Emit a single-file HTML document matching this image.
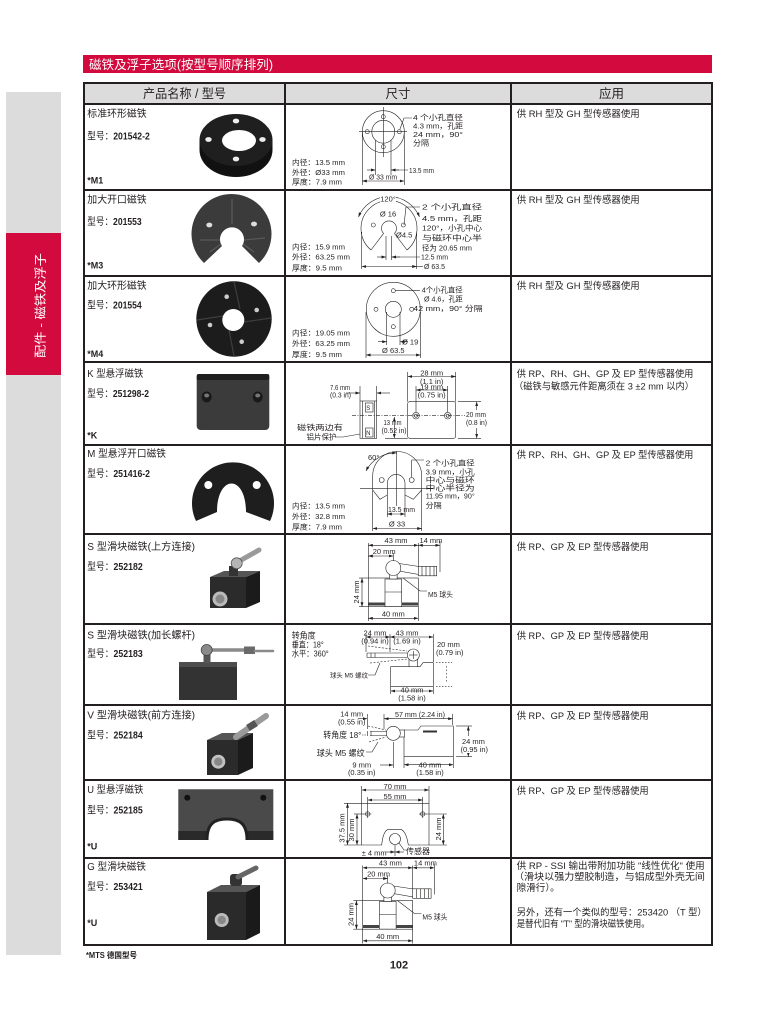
<!DOCTYPE html>
<html><head><meta charset="utf-8">
<style>
html,body{margin:0;padding:0;background:#fff;}
svg{display:block;}
text{font-family:"Liberation Sans","Noto Sans CJK SC",sans-serif;fill:#231f20;}
.t7{font-size:7.5px;}
.t6{font-size:6.5px;}
.t10{font-size:10px;}
.t9{font-size:9.5px;}
</style></head><body>
<svg width="780" height="1009" viewBox="0 0 780 1009" xmlns="http://www.w3.org/2000/svg">
<defs>
<marker id="ar" viewBox="0 0 6 4" refX="6" refY="2" markerWidth="4.5" markerHeight="3" orient="auto-start-reverse" markerUnits="userSpaceOnUse"><path d="M0,0 L6,2 L0,4 z" fill="#231f20"/></marker>
</defs>

<!-- sidebar -->
<rect x="6" y="92" width="55" height="863" fill="#dcdcdd"/>
<rect x="6" y="233" width="55" height="142" fill="#d20a3e"/>
<text transform="translate(44.5,305.5) rotate(-90)" text-anchor="middle" font-size="12" style="fill:#fff" textLength="105" lengthAdjust="spacingAndGlyphs">配件 - 磁铁及浮子</text>

<!-- title bar -->
<rect x="83" y="55" width="629" height="18" fill="#d20a3e"/>
<text x="89" y="69" font-size="12.5" style="fill:#fff" textLength="184" lengthAdjust="spacingAndGlyphs">磁铁及浮子选项(按型号顺序排列)</text>

<!-- table -->
<rect x="84" y="83" width="628" height="21" fill="#dcdcdc"/>
<g stroke="#231f20" stroke-width="2" fill="none">
<rect x="84" y="83" width="628" height="862"/>
<line x1="285" y1="83" x2="285" y2="945"/>
<line x1="511" y1="83" x2="511" y2="945"/>
<line x1="84" y1="104" x2="712" y2="104"/>
<line x1="84" y1="190" x2="712" y2="190"/>
<line x1="84" y1="276" x2="712" y2="276"/>
<line x1="84" y1="362" x2="712" y2="362"/>
<line x1="84" y1="445" x2="712" y2="445"/>
<line x1="84" y1="534" x2="712" y2="534"/>
<line x1="84" y1="624" x2="712" y2="624"/>
<line x1="84" y1="705" x2="712" y2="705"/>
<line x1="84" y1="780" x2="712" y2="780"/>
<line x1="84" y1="858" x2="712" y2="858"/>
</g>
<text x="184.5" y="98" font-size="12.5" text-anchor="middle" textLength="83" lengthAdjust="spacingAndGlyphs">产品名称 / 型号</text>
<text x="398" y="98" font-size="12.5" text-anchor="middle">尺寸</text>
<text x="611.5" y="98" font-size="12.5" text-anchor="middle">应用</text>

<!-- left column texts -->
<g class="t10">
<text x="87.3" y="117" textLength="59.4" lengthAdjust="spacingAndGlyphs">标准环形磁铁</text>
<text x="87.3" y="139.5" textLength="62.5" lengthAdjust="spacingAndGlyphs">型号：<tspan font-weight="bold">201542-2</tspan></text>
<text x="87.3" y="183.5" font-weight="bold" font-size="9">*M1</text>

<text x="87.3" y="203" textLength="59.4" lengthAdjust="spacingAndGlyphs">加大开口磁铁</text>
<text x="87.3" y="225" textLength="54.4" lengthAdjust="spacingAndGlyphs">型号：<tspan font-weight="bold">201553</tspan></text>
<text x="87.3" y="268.5" font-weight="bold" font-size="9">*M3</text>

<text x="87.3" y="289" textLength="59.4" lengthAdjust="spacingAndGlyphs">加大环形磁铁</text>
<text x="87.3" y="308.5" textLength="54.4" lengthAdjust="spacingAndGlyphs">型号：<tspan font-weight="bold">201554</tspan></text>
<text x="87.3" y="357" font-weight="bold" font-size="9">*M4</text>

<text x="87.3" y="377" textLength="56" lengthAdjust="spacingAndGlyphs">K 型悬浮磁铁</text>
<text x="87.3" y="397" textLength="61.7" lengthAdjust="spacingAndGlyphs">型号：<tspan font-weight="bold">251298-2</tspan></text>
<text x="87.3" y="438.5" font-weight="bold" font-size="9">*K</text>

<text x="87.3" y="457" textLength="78.7" lengthAdjust="spacingAndGlyphs">M 型悬浮开口磁铁</text>
<text x="87.3" y="477" textLength="62.7" lengthAdjust="spacingAndGlyphs">型号：<tspan font-weight="bold">251416-2</tspan></text>

<text x="87.3" y="550" textLength="107.7" lengthAdjust="spacingAndGlyphs">S 型滑块磁铁(上方连接)</text>
<text x="87.3" y="570" textLength="55.4" lengthAdjust="spacingAndGlyphs">型号：<tspan font-weight="bold">252182</tspan></text>

<text x="87.3" y="638.5" textLength="107.7" lengthAdjust="spacingAndGlyphs">S 型滑块磁铁(加长螺杆)</text>
<text x="87.3" y="657" textLength="55.4" lengthAdjust="spacingAndGlyphs">型号：<tspan font-weight="bold">252183</tspan></text>

<text x="87.3" y="718.5" textLength="107.7" lengthAdjust="spacingAndGlyphs">V 型滑块磁铁(前方连接)</text>
<text x="87.3" y="738.5" textLength="55.4" lengthAdjust="spacingAndGlyphs">型号：<tspan font-weight="bold">252184</tspan></text>

<text x="87.3" y="793" textLength="56" lengthAdjust="spacingAndGlyphs">U 型悬浮磁铁</text>
<text x="87.3" y="813.5" textLength="55.4" lengthAdjust="spacingAndGlyphs">型号：<tspan font-weight="bold">252185</tspan></text>
<text x="87.3" y="849.5" font-weight="bold" font-size="9">*U</text>

<text x="87.3" y="870" textLength="58.7" lengthAdjust="spacingAndGlyphs">G 型滑块磁铁</text>
<text x="87.3" y="890" textLength="55.4" lengthAdjust="spacingAndGlyphs">型号：<tspan font-weight="bold">253421</tspan></text>
<text x="87.3" y="926" font-weight="bold" font-size="9">*U</text>
</g>

<!-- product images -->
<!-- row1 ring -->
<g>
<ellipse cx="236" cy="150" rx="36.5" ry="27" fill="#111"/>
<rect x="199.5" y="140" width="73" height="10" fill="#111"/>
<ellipse cx="236" cy="140" rx="36.5" ry="26" fill="#1f1f1f"/>
<ellipse cx="239" cy="140.5" rx="17" ry="10.5" fill="#fff"/>
<ellipse cx="236" cy="121" rx="3.2" ry="2.4" fill="#eee"/>
<ellipse cx="208.5" cy="139.5" rx="3.2" ry="2.4" fill="#eee"/>
<ellipse cx="262.5" cy="139.5" rx="3.2" ry="2.4" fill="#eee"/>
<ellipse cx="236" cy="159" rx="3.2" ry="2.4" fill="#eee"/>
</g>
<!-- row2 fan -->
<g>
<path d="M204,263 A40,40 0 1 1 259,263 L242,246 A12,12 0 1 0 222,246 Z" fill="#3b3b3b"/>
<g stroke="#5a5a5a" stroke-width="1.2" fill="none">
<path d="M232,199 L232,224"/><path d="M200,240 L220,240"/><path d="M244,240 L265,238"/>
<path d="M210,252 L221,244"/><path d="M254,252 L243,244"/>
</g>
<ellipse cx="209.3" cy="225" rx="3" ry="2.4" fill="#ddd"/>
<ellipse cx="254" cy="224" rx="3" ry="2.4" fill="#ddd"/>
</g>
<!-- row3 disk -->
<g>
<circle cx="234" cy="319" r="37.7" fill="#1c1c1c"/>
<g stroke="#3e3e3e" stroke-width="1.2">
<line x1="234" y1="282" x2="240" y2="309"/><line x1="271" y1="318" x2="244" y2="322"/>
<line x1="234" y1="356" x2="229" y2="330"/><line x1="197" y1="320" x2="223" y2="316"/>
</g>
<circle cx="233.3" cy="320" r="11" fill="#fff"/>
<circle cx="226.7" cy="296.7" r="2.3" fill="#ccc"/>
<circle cx="256.7" cy="310" r="2.3" fill="#ccc"/>
<circle cx="210" cy="325" r="2.3" fill="#ccc"/>
<circle cx="241.7" cy="341.7" r="2.3" fill="#ccc"/>
</g>
<!-- row4 plate -->
<g>
<rect x="196.7" y="374" width="72.6" height="56" rx="4" fill="#3b3b3b"/>
<rect x="196.7" y="374" width="72.6" height="6" rx="2" fill="#1e1e1e"/>
<ellipse cx="206.7" cy="397" rx="5" ry="5.5" fill="#1a1a1a"/>
<ellipse cx="257.7" cy="397" rx="5" ry="5.5" fill="#1a1a1a"/>
<ellipse cx="206.7" cy="395.5" rx="2.5" ry="2" fill="#777"/>
<ellipse cx="257.7" cy="395.5" rx="2.5" ry="2" fill="#777"/>
</g>
<!-- row5 open ring -->
<g>
<path d="M196,521 A41,41 0 1 1 270,521 L246,512 C246,474 217,474 217,512 Z" fill="#1e1e1e"/>
<circle cx="208.3" cy="485" r="4" fill="#fff"/>
<circle cx="256.7" cy="485" r="4" fill="#fff"/>
</g>
<!-- row6 slider -->
<g>
<polygon points="210,577 224,571 260,571 246,577" fill="#555"/>
<rect x="210" y="577" width="36" height="31" fill="#2b2b2b"/>
<polygon points="246,577 260,571 260,602 246,608" fill="#1b1b1b"/>
<rect x="229" y="566" width="9" height="10" fill="#333"/>
<circle cx="220" cy="599" r="7.5" fill="#bbb"/><circle cx="220" cy="599" r="4.5" fill="#888"/>
<line x1="236" y1="563" x2="259" y2="550" stroke="#9a9a9a" stroke-width="5" stroke-linecap="round"/>
<circle cx="236.7" cy="563.3" r="5.5" fill="#b5b5b5" stroke="#555" stroke-width=".8"/>
</g>
<!-- row7 slider long rod -->
<g>
<rect x="179" y="664" width="58" height="36" fill="#333"/>
<rect x="179" y="662" width="58" height="5" fill="#4d4d4d"/>
<rect x="203.5" y="653" width="7" height="10" fill="#555"/>
<line x1="210" y1="650" x2="245" y2="650" stroke="#8a8a8a" stroke-width="3.5"/>
<rect x="244" y="646.5" width="11" height="7.5" fill="#6a6a6a"/>
<line x1="255" y1="651" x2="273" y2="651" stroke="#8a8a8a" stroke-width="2.5" stroke-linecap="round"/>
<circle cx="206.7" cy="650" r="5.5" fill="#8a8a8a" stroke="#444" stroke-width=".8"/>
</g>
<!-- row8 V slider -->
<g>
<polygon points="207,740 222,733 253,733 238,740" fill="#555"/>
<rect x="207" y="740" width="31" height="35" fill="#2b2b2b"/>
<polygon points="238,740 253,733 253,768 238,775" fill="#1b1b1b"/>
<circle cx="218.3" cy="761.7" r="7" fill="#c2c2c2"/><circle cx="218.3" cy="761.7" r="4.2" fill="#888"/>
<line x1="236" y1="737" x2="266" y2="716" stroke="#9a9a9a" stroke-width="6" stroke-linecap="round"/>
<line x1="248" y1="728" x2="256" y2="723" stroke="#555" stroke-width="7"/>
</g>
<!-- row9 U plate -->
<g>
<path d="M178.3,789.3 H273.3 V840 H247 C247,824 240,819 227,819 C214,819 207,824 207,840 H178.3 Z" fill="#4a4a4a"/>
<rect x="178.3" y="831" width="29" height="9" fill="#2a2a2a"/>
<rect x="247" y="831" width="26.3" height="9" fill="#2a2a2a"/>
<path d="M207,840 C207,824 214,819 227,819 C240,819 247,824 247,840" fill="none" stroke="#222" stroke-width="3"/>
<circle cx="187.3" cy="797.7" r="3" fill="#111"/>
<circle cx="263.3" cy="797.7" r="3" fill="#111"/>
</g>
<!-- row10 G slider -->
<g>
<polygon points="207,892 221,885 260,885 246,892" fill="#555"/>
<rect x="207" y="892" width="39" height="48" fill="#2a2a2a"/>
<polygon points="246,892 260,885 260,933 246,940" fill="#1a1a1a"/>
<circle cx="221.7" cy="920" r="7" fill="#bbb"/><circle cx="221.7" cy="920" r="4.2" fill="#888"/>
<rect x="230" y="874" width="12" height="12" rx="3" fill="#333"/>
<line x1="238" y1="877" x2="256" y2="868" stroke="#666" stroke-width="5" stroke-linecap="round"/>
</g>

<!-- dimension drawings -->
<g stroke="#231f20" stroke-width=".6" fill="none">
<!-- row1 -->
<circle cx="383.3" cy="131.7" r="21"/>
<circle cx="383.3" cy="131.7" r="11.5"/>
<circle cx="383.3" cy="116.7" r="2"/><circle cx="367.3" cy="131.7" r="2"/>
<circle cx="399.3" cy="131.7" r="2"/><circle cx="383.3" cy="146.7" r="2"/>
<line x1="359" y1="131.7" x2="407" y2="131.7"/>
<line x1="383.3" y1="107" x2="383.3" y2="157"/>
<line x1="362.3" y1="132" x2="362.3" y2="185"/>
<line x1="404.3" y1="132" x2="404.3" y2="185"/>
<line x1="362.3" y1="181" x2="404.3" y2="181" marker-start="url(#ar)" marker-end="url(#ar)"/>
<line x1="375.5" y1="140" x2="375.5" y2="175"/>
<line x1="391" y1="140" x2="391" y2="175"/>
<line x1="367" y1="170" x2="375.5" y2="170" marker-end="url(#ar)"/>
<line x1="399" y1="170" x2="391" y2="170" marker-end="url(#ar)"/>
<line x1="391" y1="170" x2="408" y2="170"/>
<polyline points="400,129 404,118 412,118"/>

<!-- row2 -->
<path d="M371,250 A28,28 0 1 1 407,250 L394.5,233.5 A7.5,7.5 0 1 0 383.5,233.5 Z"/>
<circle cx="373.3" cy="225" r="2"/><circle cx="403.3" cy="225" r="2"/>
<path d="M358.5,217 A33,33 0 0 1 419.5,217" marker-start="url(#ar)" marker-end="url(#ar)"/>
<line x1="386" y1="236" x2="386" y2="260"/>
<line x1="391.5" y1="236" x2="391.5" y2="260"/>
<line x1="377" y1="257" x2="386" y2="257" marker-end="url(#ar)"/>
<line x1="400" y1="257" x2="391.5" y2="257" marker-end="url(#ar)"/>
<line x1="391.5" y1="257" x2="420" y2="257"/>
<line x1="361.7" y1="232" x2="361.7" y2="269"/>
<line x1="416.7" y1="232" x2="416.7" y2="269"/>
<line x1="361.7" y1="266.5" x2="416.7" y2="266.5" marker-start="url(#ar)" marker-end="url(#ar)"/>
<line x1="416.7" y1="266.5" x2="423" y2="266.5"/>
<polyline points="404,225 406,207 420,207"/>

<!-- row3 -->
<circle cx="393.3" cy="309.3" r="27"/>
<circle cx="393.3" cy="309.3" r="8"/>
<circle cx="393.3" cy="290.7" r="2"/><circle cx="376" cy="309.3" r="2"/>
<circle cx="411.7" cy="309.3" r="2"/><circle cx="393.3" cy="326.7" r="2"/>
<line x1="386.7" y1="312" x2="386.7" y2="345"/>
<line x1="400" y1="312" x2="400" y2="345"/>
<line x1="378" y1="341.7" x2="386.7" y2="341.7" marker-end="url(#ar)"/>
<line x1="408" y1="341.7" x2="400" y2="341.7" marker-end="url(#ar)"/>
<line x1="366" y1="312" x2="366" y2="358"/>
<line x1="420.6" y1="312" x2="420.6" y2="358"/>
<line x1="366" y1="355" x2="420.6" y2="355" marker-start="url(#ar)" marker-end="url(#ar)"/>
<line x1="395.5" y1="290.7" x2="420" y2="290.7"/>

<!-- row4 -->
<rect x="360" y="401" width="16.7" height="37.3"/>
<line x1="362.3" y1="401" x2="362.3" y2="438.3"/>
<line x1="374.4" y1="401" x2="374.4" y2="438.3"/>
<rect x="365.5" y="403" width="7.5" height="9"/>
<rect x="365.5" y="428" width="7.5" height="9"/>
<line x1="352" y1="415.7" x2="468" y2="415.7" stroke-dasharray="4 1.5 1 1.5"/>
<line x1="360" y1="386" x2="360" y2="401"/>
<line x1="376.7" y1="386" x2="376.7" y2="401"/>
<line x1="346" y1="393" x2="360" y2="393" marker-end="url(#ar)"/>
<line x1="390" y1="393" x2="376.7" y2="393" marker-end="url(#ar)"/>
<rect x="407.7" y="401.7" width="48" height="36.6" rx="2"/>
<circle cx="416" cy="415.7" r="3.3"/><circle cx="416" cy="415.7" r="1.5"/>
<circle cx="447.7" cy="415.7" r="3.3"/><circle cx="447.7" cy="415.7" r="1.5"/>
<line x1="407.7" y1="372" x2="407.7" y2="401.7"/>
<line x1="455.7" y1="372" x2="455.7" y2="401.7"/>
<line x1="407.7" y1="376.5" x2="455.7" y2="376.5" marker-start="url(#ar)" marker-end="url(#ar)"/>
<line x1="416" y1="386" x2="416" y2="412"/>
<line x1="447.7" y1="386" x2="447.7" y2="412"/>
<line x1="416" y1="390" x2="447.7" y2="390" marker-start="url(#ar)" marker-end="url(#ar)"/>
<line x1="458" y1="401.7" x2="481" y2="401.7"/>
<line x1="458" y1="438.3" x2="481" y2="438.3"/>
<line x1="476.7" y1="401.7" x2="476.7" y2="410" marker-start="url(#ar)"/>
<line x1="476.7" y1="428" x2="476.7" y2="438.3" marker-end="url(#ar)"/>
<line x1="394.3" y1="417" x2="394.3" y2="438.3" marker-start="url(#ar)" marker-end="url(#ar)"/>
<line x1="385" y1="438.3" x2="407.7" y2="438.3"/>
<polyline points="336,437 343,437 360,434"/>

<!-- row5 -->
<path d="M372.7,476 A24.5,24.5 0 0 1 421.7,476 L421.7,490 L413.3,499.3 L405,495 L405,483.3 A8.8,8.8 0 0 0 387.3,483.3 L387.3,495 L380,499.3 L372.7,490 Z"/>
<circle cx="381.7" cy="480" r="2.5"/><circle cx="411.7" cy="480" r="2.5"/>
<line x1="360" y1="488.3" x2="433" y2="488.3"/>
<line x1="396.7" y1="451" x2="396.7" y2="506"/>
<path d="M366,471 A33,33 0 0 1 396.7,453" marker-start="url(#ar)" marker-end="url(#ar)"/>
<polyline points="411.7,477.5 411.7,460 424,460"/>
<line x1="387.3" y1="495" x2="387.3" y2="517"/>
<line x1="405" y1="495" x2="405" y2="517"/>
<line x1="387.3" y1="514" x2="405" y2="514" marker-start="url(#ar)" marker-end="url(#ar)"/>
<line x1="372.7" y1="490" x2="372.7" y2="531"/>
<line x1="421.7" y1="490" x2="421.7" y2="531"/>
<line x1="372.7" y1="528.5" x2="421.7" y2="528.5" marker-start="url(#ar)" marker-end="url(#ar)"/>

<!-- row6 -->
<g id="sl">
<rect x="368.3" y="578" width="50" height="28.7"/>
<rect x="385" y="579" width="16.7" height="27.7"/>
<rect x="368.3" y="602.5" width="16.7" height="3" fill="#444" stroke="none"/>
<rect x="401.7" y="602.5" width="16.6" height="3" fill="#444" stroke="none"/>
<line x1="385" y1="592" x2="401.7" y2="592"/>
<rect x="389.5" y="574.5" width="7.6" height="4.5" fill="#fff"/>
<polygon points="399,563.5 419,566.5 419,574.5 399,571" fill="#fff"/>
<rect x="418.3" y="566.3" width="18.4" height="9.5" fill="#fff"/>
<line x1="422" y1="566.3" x2="422" y2="575.8"/><line x1="426" y1="566.3" x2="426" y2="575.8"/>
<line x1="430" y1="566.3" x2="430" y2="575.8"/><line x1="434" y1="566.3" x2="434" y2="575.8"/>
<circle cx="393.3" cy="568" r="7.5" fill="#fff"/>
<line x1="368.3" y1="543" x2="368.3" y2="578"/>
<line x1="418.3" y1="543" x2="418.3" y2="566"/>
<line x1="440" y1="541" x2="440" y2="572"/>
<line x1="393.3" y1="553" x2="393.3" y2="561"/>
<line x1="368.3" y1="545.3" x2="418.3" y2="545.3" marker-start="url(#ar)" marker-end="url(#ar)"/>
<line x1="418.3" y1="545.3" x2="440" y2="545.3" marker-start="url(#ar)" marker-end="url(#ar)"/>
<line x1="368.3" y1="556" x2="393.3" y2="556" marker-start="url(#ar)" marker-end="url(#ar)"/>
<line x1="359" y1="578" x2="368.3" y2="578"/>
<line x1="359" y1="606.7" x2="368.3" y2="606.7"/>
<line x1="362" y1="578" x2="362" y2="606.7" marker-start="url(#ar)" marker-end="url(#ar)"/>
<line x1="368.3" y1="607" x2="368.3" y2="621"/>
<line x1="418.3" y1="607" x2="418.3" y2="621"/>
<line x1="368.3" y1="618.3" x2="418.3" y2="618.3" marker-start="url(#ar)" marker-end="url(#ar)"/>
<polyline points="403,578 420,591 427,591"/>
</g>
<!-- row10 reuse -->
<use href="#sl" transform="translate(-5.6,322.5)"/>

<!-- row7 -->
<path d="M390.7,666.7 L420,666.7 L423,662.7 L433.3,662.7 L433.3,686.7 L390.7,686.7 Z"/>
<rect x="409" y="659" width="8.6" height="7.7" fill="#fff"/>
<line x1="367" y1="653" x2="407" y2="653"/>
<line x1="367" y1="657.5" x2="407" y2="657.5"/>
<line x1="367" y1="653" x2="367" y2="657.5"/>
<line x1="371" y1="653" x2="371" y2="657.5"/><line x1="375" y1="653" x2="375" y2="657.5"/>
<line x1="368" y1="646" x2="407" y2="651" stroke-dasharray="2 1.5"/>
<line x1="370" y1="663" x2="407" y2="659" stroke-dasharray="2 1.5"/>
<circle cx="413.3" cy="655" r="6" fill="#fff"/>
<line x1="409" y1="655" x2="417.6" y2="655"/><line x1="413.3" y1="651" x2="413.3" y2="659"/>
<line x1="366" y1="634" x2="366" y2="652"/>
<line x1="390" y1="634" x2="390" y2="652"/>
<line x1="433.3" y1="634" x2="433.3" y2="662"/>
<line x1="366" y1="637" x2="390" y2="637" marker-start="url(#ar)" marker-end="url(#ar)"/>
<line x1="390" y1="637" x2="433.3" y2="637" marker-start="url(#ar)" marker-end="url(#ar)"/>
<line x1="436" y1="662.7" x2="452" y2="662.7" stroke-dasharray="1.5 1.5"/>
<line x1="436" y1="686.7" x2="452" y2="686.7" stroke-dasharray="1.5 1.5"/>
<line x1="446.7" y1="666" x2="446.7" y2="683" stroke-dasharray="1.5 2"/>
<polyline points="368,675 375,675 380,663"/>
<line x1="390.7" y1="687" x2="390.7" y2="694"/>
<line x1="433.3" y1="687" x2="433.3" y2="694"/>
<line x1="390.7" y1="691" x2="433.3" y2="691" marker-start="url(#ar)" marker-end="url(#ar)"/>

<!-- row8 -->
<path d="M404,730 L418,730 L421,726 L453.3,726 L453.3,756.7 L404,756.7 Z"/>
<rect x="423" y="730.5" width="14" height="2" fill="#333" stroke="none"/>
<rect x="399" y="730" width="5.5" height="7" fill="#fff"/>
<line x1="370" y1="731.5" x2="387" y2="731.5"/>
<line x1="370" y1="735.5" x2="387" y2="735.5"/>
<line x1="367.3" y1="731" x2="367.3" y2="736"/><line x1="371" y1="731" x2="371" y2="736"/>
<line x1="368" y1="726" x2="386" y2="730" stroke-dasharray="2 1.5"/>
<line x1="369" y1="742" x2="386" y2="737" stroke-dasharray="2 1.5"/>
<circle cx="393.3" cy="733.3" r="7" fill="#fff"/>
<line x1="367.3" y1="714" x2="367.3" y2="729"/>
<line x1="384" y1="714" x2="384" y2="729"/>
<line x1="452.7" y1="714" x2="452.7" y2="725"/>
<line x1="358" y1="718.7" x2="367.3" y2="718.7" marker-end="url(#ar)"/>
<line x1="393" y1="718.7" x2="384" y2="718.7" marker-end="url(#ar)"/>
<line x1="384" y1="718.7" x2="452.7" y2="718.7" marker-end="url(#ar)"/>
<line x1="456" y1="726" x2="472" y2="726"/>
<line x1="456" y1="756.7" x2="472" y2="756.7"/>
<line x1="468.3" y1="726" x2="468.3" y2="737" marker-start="url(#ar)"/>
<line x1="468.3" y1="753" x2="468.3" y2="756.7" marker-end="url(#ar)"/>
<polyline points="362,735 366,735" stroke-dasharray="1.5 1"/>
<polyline points="366,752 372,752 378,742"/>
<line x1="393.3" y1="742" x2="393.3" y2="768"/>
<line x1="380" y1="765" x2="393.3" y2="765" marker-end="url(#ar)"/>
<line x1="404" y1="757" x2="404" y2="768"/>
<line x1="453.3" y1="757" x2="453.3" y2="768"/>
<line x1="404" y1="764.7" x2="453.3" y2="764.7" marker-start="url(#ar)" marker-end="url(#ar)"/>

<!-- row9 -->
<path d="M361.7,803.3 H429 V845 H408.3 C407,836 404,829.3 400,829.3 H389 C385,829.3 382.5,836 381.7,845 H361.7 Z"/>
<circle cx="395" cy="839" r="5.5"/>
<circle cx="367.7" cy="814" r="2.2"/><circle cx="422.7" cy="814" r="2.2"/>
<line x1="364" y1="814" x2="371.4" y2="814"/><line x1="419" y1="814" x2="426.4" y2="814"/>
<line x1="367.7" y1="797" x2="367.7" y2="818"/>
<line x1="422.7" y1="797" x2="422.7" y2="818"/>
<line x1="361.7" y1="786" x2="361.7" y2="803.3"/>
<line x1="429" y1="786" x2="429" y2="803.3"/>
<line x1="361.7" y1="790" x2="429" y2="790" marker-start="url(#ar)" marker-end="url(#ar)"/>
<line x1="367.7" y1="800" x2="422.7" y2="800" marker-start="url(#ar)" marker-end="url(#ar)"/>
<line x1="344" y1="803.3" x2="361.7" y2="803.3"/>
<line x1="344" y1="845" x2="361.7" y2="845"/>
<line x1="347.5" y1="803.3" x2="347.5" y2="845" marker-start="url(#ar)" marker-end="url(#ar)"/>
<line x1="354" y1="814" x2="364" y2="814"/>
<line x1="357" y1="814" x2="357" y2="845" marker-start="url(#ar)" marker-end="url(#ar)"/>
<line x1="426" y1="814" x2="447" y2="814"/>
<line x1="429" y1="845" x2="447" y2="845"/>
<line x1="443.3" y1="814" x2="443.3" y2="845" marker-start="url(#ar)" marker-end="url(#ar)"/>
<line x1="395" y1="845" x2="395" y2="856"/>
<line x1="386" y1="852" x2="395" y2="852" marker-end="url(#ar)"/>
<line x1="404" y1="852" x2="395" y2="852" marker-end="url(#ar)"/>
<polyline points="399,843 404,850 406,850"/>
</g>

<!-- dimension texts -->
<g class="t7">
<!-- row1 -->
<text x="292" y="165" textLength="53" lengthAdjust="spacingAndGlyphs">内径：13.5 mm</text>
<text x="292" y="174.8" textLength="53" lengthAdjust="spacingAndGlyphs">外径：Ø33 mm</text>
<text x="292" y="184.5" textLength="50" lengthAdjust="spacingAndGlyphs">厚度：7.9 mm</text>
<text x="413" y="120" textLength="50" lengthAdjust="spacingAndGlyphs">4 个小孔直径</text>
<text x="413" y="128.5" textLength="50" lengthAdjust="spacingAndGlyphs">4.3 mm，孔距</text>
<text x="413" y="137" textLength="50" lengthAdjust="spacingAndGlyphs">24 mm，90°</text>
<text x="413" y="145.5" textLength="16" lengthAdjust="spacingAndGlyphs">分隔</text>
<text x="383" y="179.5" text-anchor="middle" textLength="28" lengthAdjust="spacingAndGlyphs">Ø 33 mm</text>
<text x="409" y="173" textLength="25" lengthAdjust="spacingAndGlyphs">13.5 mm</text>
<!-- row2 -->
<text x="292" y="249.5" textLength="53" lengthAdjust="spacingAndGlyphs">内径：15.9 mm</text>
<text x="292" y="259.5" textLength="58" lengthAdjust="spacingAndGlyphs">外径：63.25 mm</text>
<text x="292" y="270.5" textLength="50" lengthAdjust="spacingAndGlyphs">厚度：9.5 mm</text>
<rect x="380" y="195" width="16" height="8" fill="#fff"/>
<text x="388" y="201.5" text-anchor="middle">120°</text>
<text x="388" y="216.5" text-anchor="middle">Ø 16</text>
<text x="396" y="237.5">Ø4.5</text>
<text x="422" y="209.5" textLength="60" lengthAdjust="spacingAndGlyphs">2 个小孔直径</text>
<text x="422" y="221" textLength="60" lengthAdjust="spacingAndGlyphs">4.5 mm，孔距</text>
<text x="422" y="230.5" textLength="60" lengthAdjust="spacingAndGlyphs">120°，小孔中心</text>
<text x="422" y="240.5" textLength="60" lengthAdjust="spacingAndGlyphs">与磁环中心半</text>
<text x="422" y="250.5" textLength="50" lengthAdjust="spacingAndGlyphs">径为 20.65 mm</text>
<text x="421" y="259.5" textLength="27" lengthAdjust="spacingAndGlyphs">12.5 mm</text>
<text x="424" y="269" textLength="21" lengthAdjust="spacingAndGlyphs">Ø 63.5</text>
<!-- row3 -->
<text x="292" y="335.5" textLength="58" lengthAdjust="spacingAndGlyphs">内径：19.05 mm</text>
<text x="292" y="346" textLength="58" lengthAdjust="spacingAndGlyphs">外径：63.25 mm</text>
<text x="292" y="356.8" textLength="50" lengthAdjust="spacingAndGlyphs">厚度：9.5 mm</text>
<text x="421.7" y="292.5" textLength="41" lengthAdjust="spacingAndGlyphs">4个小孔直径</text>
<text x="424" y="301.5" textLength="38.7" lengthAdjust="spacingAndGlyphs">Ø 4.6，孔距</text>
<text x="413.3" y="311" textLength="69.3" lengthAdjust="spacingAndGlyphs">42 mm，90° 分隔</text>
<text x="402" y="344.5">Ø 19</text>
<text x="393.3" y="353" text-anchor="middle">Ø 63.5</text>
<!-- row4 -->
<text x="330" y="390" textLength="20" lengthAdjust="spacingAndGlyphs">7.6 mm</text>
<text x="330" y="397.5" textLength="21" lengthAdjust="spacingAndGlyphs">(0.3 in)</text>
<text x="431.7" y="375.5" text-anchor="middle">28 mm</text>
<text x="431.7" y="384" text-anchor="middle">(1.1 in)</text>
<text x="431.7" y="389.3" text-anchor="middle">19 mm</text>
<text x="431.7" y="397.5" text-anchor="middle" textLength="28" lengthAdjust="spacingAndGlyphs">(0.75 in)</text>
<rect x="465" y="410" width="22" height="18" fill="#fff"/>
<text x="466" y="417" textLength="20" lengthAdjust="spacingAndGlyphs">20 mm</text>
<text x="466" y="425" textLength="21" lengthAdjust="spacingAndGlyphs">(0.8 in)</text>
<text x="383.5" y="425" textLength="18" lengthAdjust="spacingAndGlyphs">13 mm</text>
<text x="381.5" y="433" textLength="25" lengthAdjust="spacingAndGlyphs">(0.52 in)</text>
<text x="368.3" y="409.8" font-size="6" text-anchor="middle">S</text>
<text x="368.3" y="435" font-size="6" text-anchor="middle">N</text>
<text x="297" y="430" textLength="46" lengthAdjust="spacingAndGlyphs">磁铁两边有</text>
<text x="306.5" y="439.5" textLength="30" lengthAdjust="spacingAndGlyphs">铝片保护</text>
<!-- row5 -->
<text x="292" y="508.5" textLength="53" lengthAdjust="spacingAndGlyphs">内径：13.5 mm</text>
<text x="292" y="519" textLength="53" lengthAdjust="spacingAndGlyphs">外径：32.8 mm</text>
<text x="292" y="529.5" textLength="50" lengthAdjust="spacingAndGlyphs">厚度：7.9 mm</text>
<text x="368" y="460">60°</text>
<text x="425.7" y="465.7" textLength="49" lengthAdjust="spacingAndGlyphs">2 个小孔直径</text>
<text x="425.7" y="474.7" textLength="49" lengthAdjust="spacingAndGlyphs">3.9 mm，小孔</text>
<text x="425.7" y="482.7" textLength="49" lengthAdjust="spacingAndGlyphs">中心与磁环</text>
<text x="425.7" y="490.7" textLength="49" lengthAdjust="spacingAndGlyphs">中心半径为</text>
<text x="425.7" y="498.5" textLength="49" lengthAdjust="spacingAndGlyphs">11.95 mm，90°</text>
<text x="425.7" y="508" textLength="16" lengthAdjust="spacingAndGlyphs">分隔</text>
<text x="388" y="512" textLength="27" lengthAdjust="spacingAndGlyphs">13.5 mm</text>
<text x="397" y="526.5" text-anchor="middle">Ø 33</text>
<!-- row6 -->
<g id="slt">
<text x="396" y="543" text-anchor="middle">43 mm</text>
<text x="419.5" y="543">14 mm</text>
<text x="372.7" y="554">20 mm</text>
<text transform="translate(359,592) rotate(-90)" text-anchor="middle">24 mm</text>
<text x="393.3" y="616.7" text-anchor="middle">40 mm</text>
<text x="428" y="597" textLength="25" lengthAdjust="spacingAndGlyphs">M5 球头</text>
</g>
<use href="#slt" transform="translate(-5.6,322.5)"/>
<!-- row7 -->
<text x="291.7" y="638.5" font-size="8.5" textLength="24" lengthAdjust="spacingAndGlyphs">转角度</text>
<text x="291.7" y="647.5" font-size="8.5" textLength="32" lengthAdjust="spacingAndGlyphs">垂直：18°</text>
<text x="291.7" y="656.5" font-size="8.5" textLength="37" lengthAdjust="spacingAndGlyphs">水平：360°</text>
<text x="375" y="635.5" text-anchor="middle">24 mm</text>
<text x="375" y="643.5" text-anchor="middle">(0.94 in)</text>
<text x="407" y="635.5" text-anchor="middle">43 mm</text>
<text x="407" y="643.5" text-anchor="middle">(1.69 in)</text>
<text x="437" y="647">20 mm</text>
<text x="436" y="655">(0.79 in)</text>
<text x="330" y="677.5" class="t6" textLength="38" lengthAdjust="spacingAndGlyphs">球头 M5 螺纹</text>
<text x="412" y="692.5" text-anchor="middle">40 mm</text>
<text x="412" y="700.5" text-anchor="middle">(1.58 in)</text>
<!-- row8 -->
<text x="351.7" y="716.5" text-anchor="middle">14 mm</text>
<text x="351.7" y="724.5" text-anchor="middle">(0.55 in)</text>
<text x="395" y="717" textLength="50" lengthAdjust="spacingAndGlyphs">57 mm (2.24 in)</text>
<text x="323.3" y="738" font-size="8.5" textLength="38" lengthAdjust="spacingAndGlyphs">转角度 18°</text>
<text x="316.7" y="756" font-size="8.5" textLength="48" lengthAdjust="spacingAndGlyphs">球头 M5 螺纹</text>
<rect x="460" y="736" width="26" height="17" fill="#fff"/>
<text x="462" y="744">24 mm</text>
<text x="460.5" y="752">(0.95 in)</text>
<text x="361.7" y="767.5" text-anchor="middle">9 mm</text>
<text x="361.7" y="775" text-anchor="middle">(0.35 in)</text>
<text x="430" y="767.5" text-anchor="middle">40 mm</text>
<text x="430" y="775" text-anchor="middle">(1.58 in)</text>
<!-- row9 -->
<text x="395" y="789" text-anchor="middle">70 mm</text>
<text x="395" y="799" text-anchor="middle">55 mm</text>
<text transform="translate(344.5,828) rotate(-90)" text-anchor="middle">37.5 mm</text>
<text transform="translate(354,830) rotate(-90)" text-anchor="middle">30 mm</text>
<text transform="translate(441,829) rotate(-90)" text-anchor="middle">24 mm</text>
<text x="361.7" y="855.5">± 4 mm</text>
<text x="406" y="854" font-size="8">传感器</text>
</g>

<!-- application column -->
<g class="t9">
<text x="516.7" y="117" textLength="123" lengthAdjust="spacingAndGlyphs">供 RH 型及 GH 型传感器使用</text>
<text x="516.7" y="203" textLength="123" lengthAdjust="spacingAndGlyphs">供 RH 型及 GH 型传感器使用</text>
<text x="516.7" y="289" textLength="123" lengthAdjust="spacingAndGlyphs">供 RH 型及 GH 型传感器使用</text>
<text x="516.7" y="377" textLength="176.7" lengthAdjust="spacingAndGlyphs">供 RP、RH、GH、GP 及 EP 型传感器使用</text>
<text x="514" y="389.5" textLength="180" lengthAdjust="spacingAndGlyphs">（磁铁与敏感元件距离须在 3 ±2 mm 以内）</text>
<text x="516.7" y="458" textLength="176.7" lengthAdjust="spacingAndGlyphs">供 RP、RH、GH、GP 及 EP 型传感器使用</text>
<text x="516.7" y="550" textLength="132" lengthAdjust="spacingAndGlyphs">供 RP、GP 及 EP 型传感器使用</text>
<text x="516.7" y="639" textLength="132" lengthAdjust="spacingAndGlyphs">供 RP、GP 及 EP 型传感器使用</text>
<text x="516.7" y="719" textLength="132" lengthAdjust="spacingAndGlyphs">供 RP、GP 及 EP 型传感器使用</text>
<text x="516.7" y="794" textLength="132" lengthAdjust="spacingAndGlyphs">供 RP、GP 及 EP 型传感器使用</text>
<text x="516.7" y="869" textLength="188" lengthAdjust="spacingAndGlyphs">供 RP - SSI 输出带附加功能 "线性优化" 使用</text>
<text x="514" y="880" textLength="191" lengthAdjust="spacingAndGlyphs">（滑块以强力塑胶制造，与铝成型外壳无间</text>
<text x="516.7" y="891" textLength="43" lengthAdjust="spacingAndGlyphs">隙滑行）。</text>
<text x="516.7" y="915.5" textLength="190" lengthAdjust="spacingAndGlyphs">另外，还有一个类似的型号：253420 （T 型）</text>
<text x="516.7" y="927" textLength="133" lengthAdjust="spacingAndGlyphs">是替代旧有 "T" 型的滑块磁铁使用。</text>
</g>

<!-- footer -->
<text x="86" y="958" font-size="8" font-weight="bold" textLength="51" lengthAdjust="spacingAndGlyphs">*MTS 德国型号</text>
<text x="399" y="968.5" font-size="11" font-weight="bold" text-anchor="middle">102</text>
</svg>
</body></html>
